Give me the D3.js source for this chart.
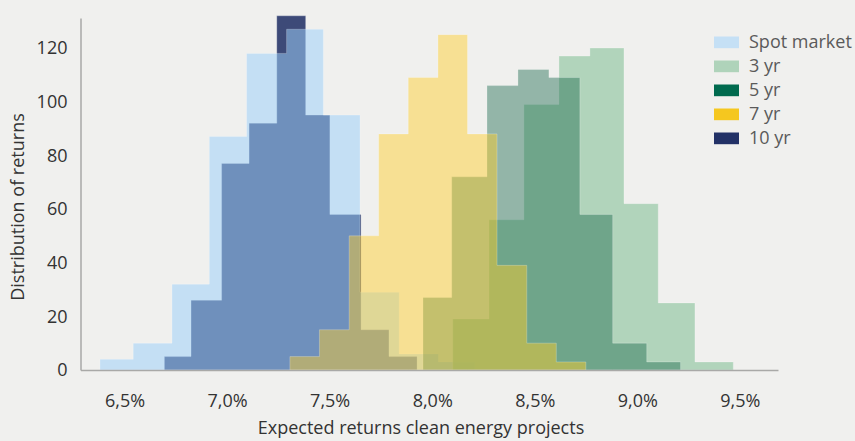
<!DOCTYPE html>
<html>
<head>
<meta charset="utf-8">
<script src="https://cdn.jsdelivr.net/npm/d3@7"></script>
<style>
  body { margin: 0; background: #f0f0ee; }
  svg { display: block; font-family: "Open Sans", Lato, sans-serif; }
</style>
</head>
<body>
<svg id="chart" width="855" height="441"></svg>
<script>
// Histograms of expected returns.
// Each series has its own bin edges (in %) and the count per bin.

const seriesNames = ["Spot market", "3 yr", "5 yr", "7 yr", "10 yr"];
const legendColors = ["#c5e0f5", "#afd3ba", "#006a4e", "#f5c71f", "#223166"];

const spotEdges = [6.380, 6.542, 6.731, 6.913, 7.095, 7.290, 7.469, 7.648, 7.839, 8.030, 8.208];
const spotCounts = [4, 10, 32, 87, 118, 127, 95, 29, 6, 3];

const yr10Edges = [6.694, 6.824, 6.973, 7.107, 7.242, 7.383, 7.501, 7.653, 7.789, 7.926];
const yr10Counts = [5, 26, 77, 92, 132, 95, 58, 15, 5];

const yr7Edges = [7.306, 7.450, 7.595, 7.739, 7.883, 8.028, 8.172, 8.316, 8.461, 8.605, 8.749];
const yr7Counts = [5, 15, 50, 88, 109, 125, 88, 39, 10, 3];

const yr5Edges = [7.955, 8.095, 8.267, 8.418, 8.569, 8.720, 8.880, 9.046, 9.211];
const yr5Counts = [27, 72, 106, 112, 109, 58, 10, 3];

const yr3Edges = [8.100, 8.277, 8.447, 8.618, 8.769, 8.935, 9.102, 9.281, 9.468];
const yr3Counts = [19, 56, 99, 117, 120, 62, 25, 3];

const xTicks = [6.5, 7.0, 7.5, 8.0, 8.5, 9.0, 9.5];
const yTicks = [0, 20, 40, 60, 80, 100, 120];

// drawing order (bottom to top) and how each layer is blended
const layers = [
  { edges: yr10Edges, counts: yr10Counts, fill: "#223166", alpha: 0.87 },
  { edges: spotEdges, counts: spotCounts, fill: "#9dd0f9", alpha: 0.53 },
  { edges: yr3Edges, counts: yr3Counts, fill: "#a6cfb2", alpha: 0.85 },
  { edges: yr5Edges, counts: yr5Counts, fill: "#146448", alpha: 0.42 },
  { edges: yr7Edges, counts: yr7Counts, fill: "#ffcd28", alpha: 0.46 },
];

const svg = d3.select("#chart");

let x = d3.scaleLinear().domain([6.285, 9.686]).range([80.5, 778]);
let y = d3.scaleLinear().domain([0, 131.2]).range([370, 18]);

// turns edges + counts into points for a step-filled area
function steps(edges, counts) {
  let pts = counts.map((c, i) => ({ x: edges[i], y: c }));
  pts.push({ x: edges[edges.length - 1], y: counts[counts.length - 1] });
  return pts;
}

let area = d3.area()
  .x((d) => x(d.x))
  .y0(y(0))
  .y1((d) => y(d.y))
  .curve(d3.curveStepAfter);

svg.append("g")
  .selectAll("path")
  .data(layers)
  .enter()
  .append("path")
  .attr("d", (d) => area(steps(d.edges, d.counts)))
  .attr("fill", (d) => d.fill)
  .attr("fill-opacity", (d) => d.alpha)
  .attr("stroke", "#ffffff")
  .attr("stroke-opacity", 0.3)
  .attr("stroke-width", 0.8);

// Axes
let fmt = (v) => d3.format(".1f")(v).replace(".", ",") + "%";

let xAxis = svg.append("g")
  .attr("transform", "translate(0,370)")
  .call(d3.axisBottom(x).tickValues(xTicks).tickFormat(fmt).tickSize(0).tickPadding(24));

let yAxis = svg.append("g")
  .attr("transform", "translate(80.5,0)")
  .call(d3.axisLeft(y).tickValues(yTicks).tickSize(0).tickPadding(13));

[xAxis, yAxis].forEach((g) => {
  g.select(".domain").attr("stroke", "#a9a9a7").attr("stroke-width", 1.5);
  g.selectAll("text")
    .attr("fill", "#333")
    .style("font-size", "18px")
    .style("font-family", "'Open Sans', Lato, sans-serif");
});

svg.append("text")
  .attr("x", 421)
  .attr("y", 434)
  .attr("text-anchor", "middle")
  .attr("fill", "#333")
  .style("font-size", "18px")
  .text("Expected returns clean energy projects");

svg.append("text")
  .attr("transform", "translate(24,207) rotate(-90)")
  .attr("text-anchor", "middle")
  .attr("fill", "#333")
  .style("font-size", "18px")
  .text("Distribution of returns");

// Legend
let legend = svg.append("g")
  .selectAll("g")
  .data(seriesNames)
  .enter()
  .append("g")
  .attr("transform", (d, i) => "translate(714," + (47.5 + i * 24) + ")");

legend.append("rect")
  .attr("x", 0)
  .attr("y", -11)
  .attr("width", 25)
  .attr("height", 11.7)
  .attr("fill", (d, i) => legendColors[i]);

legend.append("text")
  .attr("x", 35)
  .attr("y", 0)
  .attr("fill", "#5a5a5a")
  .style("font-size", "18px")
  .text((d) => d);
</script>
</body>
</html>
